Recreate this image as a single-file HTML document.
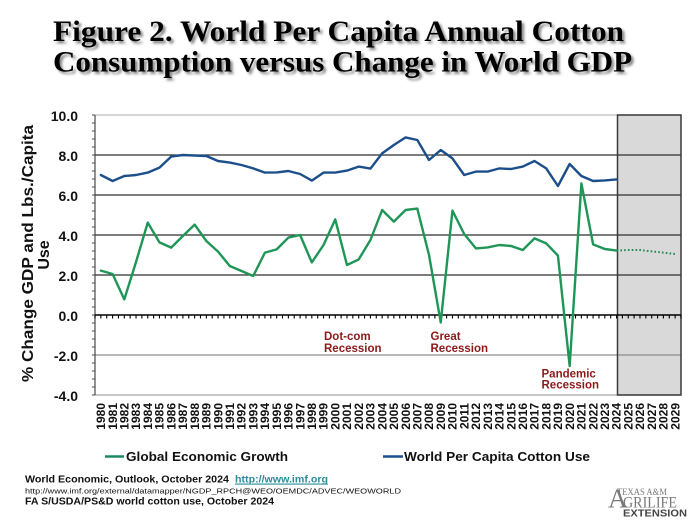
<!DOCTYPE html>
<html>
<head>
<meta charset="utf-8">
<style>
  html,body{margin:0;padding:0;background:#fff;}
  svg{display:block;}
  text{font-family:"Liberation Sans",Arial,sans-serif;}
</style>
</head>
<body>
<svg width="700" height="525" viewBox="0 0 700 525" xmlns="http://www.w3.org/2000/svg">
  <defs>
    <filter id="sh" x="-5%" y="-20%" width="110%" height="140%">
      <feGaussianBlur stdDeviation="1.2"/>
    </filter>
  </defs>
  <rect width="700" height="525" fill="#fff"/>

  <!-- Title shadow -->
  <g filter="url(#sh)" fill="#8a8a8a" font-family="'Liberation Serif',serif" font-weight="bold" font-size="30">
    <text x="55.5" y="43.5" textLength="571" lengthAdjust="spacingAndGlyphs" style="font-family:'Liberation Serif',serif">Figure 2.  World Per Capita Annual Cotton</text>
    <text x="55.5" y="74" textLength="579" lengthAdjust="spacingAndGlyphs" style="font-family:'Liberation Serif',serif">Consumption versus Change in World GDP</text>
  </g>
  <!-- Title -->
  <g fill="#000" font-weight="bold" font-size="30">
    <text x="53" y="41" textLength="571" lengthAdjust="spacingAndGlyphs" style="font-family:'Liberation Serif',serif">Figure 2.  World Per Capita Annual Cotton</text>
    <text x="53" y="71.5" textLength="579" lengthAdjust="spacingAndGlyphs" style="font-family:'Liberation Serif',serif">Consumption versus Change in World GDP</text>
  </g>

  <!-- Shaded forecast region fill -->
  <rect x="617.5" y="115" width="63.5" height="280" fill="#d9d9d9"/>

  <!-- Plot border -->
  <line x1="95" y1="115" x2="681" y2="115" stroke="#bdbdbd" stroke-width="1.2"/>
  <line x1="95" y1="395" x2="681" y2="395" stroke="#a8a8a8" stroke-width="1.2"/>

  <!-- Gridlines -->
  <g stroke="#2e2e2e" stroke-width="1.2">
    <line x1="95" y1="155" x2="681" y2="155"/>
    <line x1="95" y1="195" x2="681" y2="195"/>
    <line x1="95" y1="235" x2="681" y2="235"/>
    <line x1="95" y1="275" x2="681" y2="275"/>
  </g>
  <line x1="95" y1="355" x2="681" y2="355" stroke="#8c8c8c" stroke-width="1.2"/>

  <!-- Shade border -->
  <rect x="617.5" y="115" width="63.5" height="280" fill="none" stroke="#3a3a3a" stroke-width="1.5"/>

  <!-- Left axis -->
  <line x1="95" y1="115" x2="95" y2="395" stroke="#4a4a4a" stroke-width="1.2"/>
  <!-- y minor ticks -->
  <g stroke="#4a4a4a" stroke-width="1">
    <line x1="92" y1="115" x2="95" y2="115"/><line x1="92" y1="123" x2="95" y2="123"/><line x1="92" y1="131" x2="95" y2="131"/><line x1="92" y1="139" x2="95" y2="139"/><line x1="92" y1="147" x2="95" y2="147"/>
    <line x1="92" y1="155" x2="95" y2="155"/><line x1="92" y1="163" x2="95" y2="163"/><line x1="92" y1="171" x2="95" y2="171"/><line x1="92" y1="179" x2="95" y2="179"/><line x1="92" y1="187" x2="95" y2="187"/>
    <line x1="92" y1="195" x2="95" y2="195"/><line x1="92" y1="203" x2="95" y2="203"/><line x1="92" y1="211" x2="95" y2="211"/><line x1="92" y1="219" x2="95" y2="219"/><line x1="92" y1="227" x2="95" y2="227"/>
    <line x1="92" y1="235" x2="95" y2="235"/><line x1="92" y1="243" x2="95" y2="243"/><line x1="92" y1="251" x2="95" y2="251"/><line x1="92" y1="259" x2="95" y2="259"/><line x1="92" y1="267" x2="95" y2="267"/>
    <line x1="92" y1="275" x2="95" y2="275"/><line x1="92" y1="283" x2="95" y2="283"/><line x1="92" y1="291" x2="95" y2="291"/><line x1="92" y1="299" x2="95" y2="299"/><line x1="92" y1="307" x2="95" y2="307"/>
    <line x1="92" y1="315" x2="95" y2="315"/><line x1="92" y1="323" x2="95" y2="323"/><line x1="92" y1="331" x2="95" y2="331"/><line x1="92" y1="339" x2="95" y2="339"/><line x1="92" y1="347" x2="95" y2="347"/>
    <line x1="92" y1="355" x2="95" y2="355"/><line x1="92" y1="363" x2="95" y2="363"/><line x1="92" y1="371" x2="95" y2="371"/><line x1="92" y1="379" x2="95" y2="379"/><line x1="92" y1="387" x2="95" y2="387"/>
    <line x1="92" y1="395" x2="95" y2="395"/>
  </g>

  <!-- Zero line with ticks -->
  <line x1="95" y1="315" x2="681" y2="315" stroke="#000" stroke-width="1.6"/>
  <path stroke="#000" stroke-width="1.1" fill="none" d="
    M95,315v3.5 M100.86,315v3.5 M106.72,315v3.5 M112.58,315v3.5 M118.44,315v3.5 M124.3,315v3.5 M130.16,315v3.5 M136.02,315v3.5 M141.88,315v3.5 M147.74,315v3.5
    M153.6,315v3.5 M159.46,315v3.5 M165.32,315v3.5 M171.18,315v3.5 M177.04,315v3.5 M182.9,315v3.5 M188.76,315v3.5 M194.62,315v3.5 M200.48,315v3.5 M206.34,315v3.5
    M212.2,315v3.5 M218.06,315v3.5 M223.92,315v3.5 M229.78,315v3.5 M235.64,315v3.5 M241.5,315v3.5 M247.36,315v3.5 M253.22,315v3.5 M259.08,315v3.5 M264.94,315v3.5
    M270.8,315v3.5 M276.66,315v3.5 M282.52,315v3.5 M288.38,315v3.5 M294.24,315v3.5 M300.1,315v3.5 M305.96,315v3.5 M311.82,315v3.5 M317.68,315v3.5 M323.54,315v3.5
    M329.4,315v3.5 M335.26,315v3.5 M341.12,315v3.5 M346.98,315v3.5 M352.84,315v3.5 M358.7,315v3.5 M364.56,315v3.5 M370.42,315v3.5 M376.28,315v3.5 M382.14,315v3.5
    M388,315v3.5 M393.86,315v3.5 M399.72,315v3.5 M405.58,315v3.5 M411.44,315v3.5 M417.3,315v3.5 M423.16,315v3.5 M429.02,315v3.5 M434.88,315v3.5 M440.74,315v3.5
    M446.6,315v3.5 M452.46,315v3.5 M458.32,315v3.5 M464.18,315v3.5 M470.04,315v3.5 M475.9,315v3.5 M481.76,315v3.5 M487.62,315v3.5 M493.48,315v3.5 M499.34,315v3.5
    M505.2,315v3.5 M511.06,315v3.5 M516.92,315v3.5 M522.78,315v3.5 M528.64,315v3.5 M534.5,315v3.5 M540.36,315v3.5 M546.22,315v3.5 M552.08,315v3.5 M557.94,315v3.5
    M563.8,315v3.5 M569.66,315v3.5 M575.52,315v3.5 M581.38,315v3.5 M587.24,315v3.5 M593.1,315v3.5 M598.96,315v3.5 M604.82,315v3.5 M610.68,315v3.5 M616.54,315v3.5
    M622.4,315v3.5 M628.26,315v3.5 M634.12,315v3.5 M639.98,315v3.5 M645.84,315v3.5 M651.7,315v3.5 M657.56,315v3.5 M663.42,315v3.5 M669.28,315v3.5 M675.14,315v3.5 M681,315v3.5"/>

  <!-- Y tick labels -->
  <g font-size="14" font-weight="bold" fill="#111" text-anchor="end">
    <text x="78" y="121">10.0</text>
    <text x="78" y="161">8.0</text>
    <text x="78" y="201">6.0</text>
    <text x="78" y="241">4.0</text>
    <text x="78" y="281">2.0</text>
    <text x="78" y="321">0.0</text>
    <text x="78" y="361">-2.0</text>
    <text x="78" y="401">-4.0</text>
  </g>

  <!-- Y axis title -->
  <g font-size="16" font-weight="bold" fill="#111" text-anchor="middle">
    <text transform="translate(33,253.5) rotate(-90)" textLength="257" lengthAdjust="spacingAndGlyphs">% Change GDP and Lbs./Capita</text>
    <text transform="translate(49,255) rotate(-90)">Use</text>
  </g>

  <!-- Series: World per capita cotton use (blue) -->
  <polyline fill="none" stroke="#1c4f8a" stroke-width="2.4" stroke-linejoin="round" stroke-linecap="round" points="
    100.86,175 112.58,181 124.3,176 136.02,175 147.74,172.6 159.46,167.6 171.18,156.6 182.9,155 194.62,155.6 206.34,156
    218.06,161 229.78,162.6 241.5,165 253.22,168.4 264.94,172.6 276.66,172.4 288.38,171 300.1,174 311.82,180.6 323.54,172.6
    335.26,172.6 346.98,170.6 358.7,166.6 370.42,168.6 382.14,153.4 393.86,145 405.58,137.4 417.3,140 429.02,160 440.74,150
    452.46,158.4 464.18,175 475.9,171.6 487.62,171.6 499.34,168.4 511.06,169 522.78,166.6 534.5,161 546.22,168.4 557.94,186
    569.66,164 581.38,176 593.1,181 604.82,180.4 616.54,179.4"/>

  <!-- Series: Global economic growth (green) -->
  <polyline fill="none" stroke="#1f9657" stroke-width="2.4" stroke-linejoin="round" stroke-linecap="round" points="
    100.86,270.6 112.58,274 124.3,299.4 136.02,262 147.74,222.6 159.46,242.4 171.18,247.6 182.9,236 194.62,224.6 206.34,241
    218.06,251.6 229.78,266 241.5,271 253.22,276 264.94,252.6 276.66,249.4 288.38,237.6 300.1,235 311.82,262.4 323.54,245
    335.26,219.4 346.98,265 358.7,259.4 370.42,240 382.14,210 393.86,221.6 405.58,210 417.3,208.6 429.02,255 440.74,322.4
    452.46,210.6 464.18,234 475.9,248.4 487.62,247.4 499.34,245 511.06,246 522.78,250 534.5,238.4 546.22,243.4 557.94,255.6
    569.66,366 581.38,183.4 593.1,244.4 604.82,249 616.54,250.6"/>
  <!-- Projection dotted -->
  <polyline fill="none" stroke="#1f8a55" stroke-width="2" stroke-dasharray="1.6 2.2" points="
    616.54,250.6 628.26,250 639.98,250 651.7,251.4 663.42,252.6 675.14,254"/>

  <!-- Annotations -->
  <g font-size="11.5" font-weight="bold" fill="#8b1a1a">
    <text x="324" y="340">Dot-com</text>
    <text x="324" y="352">Recession</text>
    <text x="430.5" y="340">Great</text>
    <text x="430.5" y="352">Recession</text>
    <text x="541.5" y="377.5">Pandemic</text>
    <text x="541.5" y="388.5">Recession</text>
  </g>

  <!-- X labels -->
  <g font-size="12" font-weight="bold" fill="#111" text-anchor="end">
    <text transform="translate(105.06,403) rotate(-90)">1980</text>
    <text transform="translate(116.78,403) rotate(-90)">1981</text>
    <text transform="translate(128.5,403) rotate(-90)">1982</text>
    <text transform="translate(140.22,403) rotate(-90)">1983</text>
    <text transform="translate(151.94,403) rotate(-90)">1984</text>
    <text transform="translate(163.66,403) rotate(-90)">1985</text>
    <text transform="translate(175.38,403) rotate(-90)">1986</text>
    <text transform="translate(187.1,403) rotate(-90)">1987</text>
    <text transform="translate(198.82,403) rotate(-90)">1988</text>
    <text transform="translate(210.54,403) rotate(-90)">1989</text>
    <text transform="translate(222.26,403) rotate(-90)">1990</text>
    <text transform="translate(233.98,403) rotate(-90)">1991</text>
    <text transform="translate(245.7,403) rotate(-90)">1992</text>
    <text transform="translate(257.42,403) rotate(-90)">1993</text>
    <text transform="translate(269.14,403) rotate(-90)">1994</text>
    <text transform="translate(280.86,403) rotate(-90)">1995</text>
    <text transform="translate(292.58,403) rotate(-90)">1996</text>
    <text transform="translate(304.3,403) rotate(-90)">1997</text>
    <text transform="translate(316.02,403) rotate(-90)">1998</text>
    <text transform="translate(327.74,403) rotate(-90)">1999</text>
    <text transform="translate(339.46,403) rotate(-90)">2000</text>
    <text transform="translate(351.18,403) rotate(-90)">2001</text>
    <text transform="translate(362.9,403) rotate(-90)">2002</text>
    <text transform="translate(374.62,403) rotate(-90)">2003</text>
    <text transform="translate(386.34,403) rotate(-90)">2004</text>
    <text transform="translate(398.06,403) rotate(-90)">2005</text>
    <text transform="translate(409.78,403) rotate(-90)">2006</text>
    <text transform="translate(421.5,403) rotate(-90)">2007</text>
    <text transform="translate(433.22,403) rotate(-90)">2008</text>
    <text transform="translate(444.94,403) rotate(-90)">2009</text>
    <text transform="translate(456.66,403) rotate(-90)">2010</text>
    <text transform="translate(468.38,403) rotate(-90)">2011</text>
    <text transform="translate(480.1,403) rotate(-90)">2012</text>
    <text transform="translate(491.82,403) rotate(-90)">2013</text>
    <text transform="translate(503.54,403) rotate(-90)">2014</text>
    <text transform="translate(515.26,403) rotate(-90)">2015</text>
    <text transform="translate(526.98,403) rotate(-90)">2016</text>
    <text transform="translate(538.7,403) rotate(-90)">2017</text>
    <text transform="translate(550.42,403) rotate(-90)">2018</text>
    <text transform="translate(562.14,403) rotate(-90)">2019</text>
    <text transform="translate(573.86,403) rotate(-90)">2020</text>
    <text transform="translate(585.58,403) rotate(-90)">2021</text>
    <text transform="translate(597.3,403) rotate(-90)">2022</text>
    <text transform="translate(609.02,403) rotate(-90)">2023</text>
    <text transform="translate(620.74,403) rotate(-90)">2024</text>
    <text transform="translate(632.46,403) rotate(-90)">2025</text>
    <text transform="translate(644.18,403) rotate(-90)">2026</text>
    <text transform="translate(655.9,403) rotate(-90)">2027</text>
    <text transform="translate(667.62,403) rotate(-90)">2028</text>
    <text transform="translate(679.34,403) rotate(-90)">2029</text>
  </g>

  <!-- Legend -->
  <line x1="105" y1="456.5" x2="124" y2="456.5" stroke="#1b8a62" stroke-width="2.5"/>
  <text x="126" y="461" font-size="13" font-weight="bold" fill="#111" textLength="162" lengthAdjust="spacingAndGlyphs">Global Economic Growth</text>
  <line x1="383" y1="456.5" x2="403" y2="456.5" stroke="#1c4f8a" stroke-width="2.5"/>
  <text x="404" y="461" font-size="13" font-weight="bold" fill="#111" textLength="186" lengthAdjust="spacingAndGlyphs">World Per Capita Cotton Use</text>

  <!-- Footer sources -->
  <text x="25" y="482.5" font-size="10" font-weight="bold" fill="#111" textLength="204" lengthAdjust="spacingAndGlyphs">World Economic, Outlook, October 2024</text>
  <text x="235" y="482.5" font-size="10" font-weight="bold" fill="#2a8c9c" text-decoration="underline" textLength="93" lengthAdjust="spacingAndGlyphs">http://www.imf.org</text>
  <line x1="235" y1="484.2" x2="328" y2="484.2" stroke="#2a8c9c" stroke-width="0.9"/>
  <text x="25" y="493.5" font-size="7.5" fill="#111" textLength="376" lengthAdjust="spacingAndGlyphs">http://www.imf.org/external/datamapper/NGDP_RPCH@WEO/OEMDC/ADVEC/WEOWORLD</text>
  <text x="25" y="504.5" font-size="10" font-weight="bold" fill="#111" textLength="249" lengthAdjust="spacingAndGlyphs">FA S/USDA/PS&amp;D world cotton use, October 2024</text>

  <!-- Logo -->
  <text x="617" y="495" font-size="9" fill="#7a7a7a" textLength="50" lengthAdjust="spacingAndGlyphs" style="font-family:'Liberation Serif',serif">TEXAS A&amp;M</text>
  <text x="608" y="507.5" font-size="27" fill="#7a7a7a" style="font-family:'Liberation Serif',serif">A</text>
  <text x="623" y="507.5" font-size="15.5" fill="#7a7a7a" textLength="54" lengthAdjust="spacingAndGlyphs" style="font-family:'Liberation Serif',serif">GRILIFE</text>
  <text x="623" y="516.5" font-size="10" font-weight="bold" fill="#444" textLength="64" lengthAdjust="spacingAndGlyphs">EXTENSION</text>
</svg>
</body>
</html>
